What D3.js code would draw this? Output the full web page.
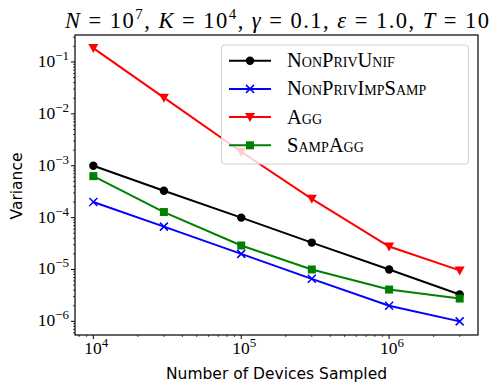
<!DOCTYPE html>
<html><head><meta charset="utf-8">
<script src="https://cdn.jsdelivr.net/npm/d3@7"></script>
<style>body{margin:0;background:#fff}</style>
</head><body>
<svg id="c" width="498" height="392"></svg>
<script>
const devices = [1e4, 3e4, 1e5, 3e5, 1e6, 3e6];
const nonPrivUnif = [1e-3, 3.3e-4, 1e-4, 3.3e-5, 1e-5, 3.3e-6];
const nonPrivImpSamp = [2e-4, 6.7e-5, 2e-5, 6.6e-6, 2e-6, 1e-6];
const agg = [0.185, 0.0205, 0.00186, 2.3e-4, 2.77e-5, 9.6e-6];
const sampAgg = [6.3e-4, 1.28e-4, 2.9e-5, 1e-5, 4.1e-6, 2.75e-6];
const seriesNames = ["NonPrivUnif", "NonPrivImpSamp", "Agg", "SampAgg"];
const seriesColors = ["#000000", "#0000ff", "#ff0000", "#008000"];
const seriesMarkers = ["circle", "x", "tri", "square"];
const xTickExps = [4, 5, 6];
const yTickExps = [-1, -2, -3, -4, -5, -6];
const xLabel = "Number of Devices Sampled";
const yLabel = "Variance";

const series = [nonPrivUnif, nonPrivImpSamp, agg, sampAgg];
const svg = d3.select("#c");
const L = 75, R = 478, T = 35, B = 335;
const x = d3.scaleLog().domain([Math.pow(10,3.876), Math.pow(10,6.601)]).range([L, R]);
const y = d3.scaleLog().domain([Math.pow(10,-6.263), Math.pow(10,-0.48)]).range([B, T]);

svg.append("defs").append("clipPath").attr("id","clip").append("rect")
  .attr("x",L).attr("y",T).attr("width",R-L).attr("height",B-T);

function minorVals(scale){
  const [a,b] = scale.domain(); const out=[];
  for(let e=Math.floor(Math.log10(a)); e<=Math.ceil(Math.log10(b)); e++)
    for(let k=1;k<10;k++){const v=k*Math.pow(10,e); if(v>=a&&v<=b) out.push(v);}
  return out;
}
const serif = "'Liberation Serif', serif";
const sans = "'DejaVu Sans', sans-serif";
const gx = svg.append("g");
minorVals(x).forEach(v=>{
  const major = Math.abs(Math.log10(v)-Math.round(Math.log10(v)))<1e-9;
  gx.append("line").attr("x1",x(v)).attr("x2",x(v)).attr("y1",B).attr("y2",B+(major?4:2))
    .attr("stroke","#000").attr("stroke-width",major?1:0.7);
});
minorVals(y).forEach(v=>{
  const major = Math.abs(Math.log10(v)-Math.round(Math.log10(v)))<1e-9;
  gx.append("line").attr("y1",y(v)).attr("y2",y(v)).attr("x1",L).attr("x2",L-(major?4:2))
    .attr("stroke","#000").attr("stroke-width",major?1:0.7);
});
xTickExps.forEach(e=>{
  const t = gx.append("text").attr("x",x(Math.pow(10,e))+3).attr("y",354).attr("text-anchor","middle")
    .attr("font-family",serif).attr("font-size",17.5);
  t.append("tspan").text("10");
  t.append("tspan").attr("dy",-7).attr("font-size",13).text(String(e));
});
yTickExps.forEach(e=>{
  const t = gx.append("text").attr("x",69).attr("y",y(Math.pow(10,e))+5).attr("text-anchor","end")
    .attr("font-family",serif).attr("font-size",17.5);
  t.append("tspan").text("10");
  t.append("tspan").attr("dy",-7).attr("font-size",13).text("\u2212"+Math.abs(e));
});

const line = d3.line().x((d,i)=>x(devices[i])).y(d=>y(d));
const plot = svg.append("g").attr("clip-path","url(#clip)");
function marker(g, type, cx, cy, color){
  if(type==="circle") g.append("circle").attr("cx",cx).attr("cy",cy).attr("r",4.2).attr("fill",color);
  else if(type==="square") g.append("rect").attr("x",cx-4).attr("y",cy-4).attr("width",8).attr("height",8).attr("fill",color);
  else if(type==="tri") g.append("path").attr("d",`M${cx-5},${cy-4}L${cx+5},${cy-4}L${cx},${cy+5}Z`).attr("fill",color);
  else if(type==="x") g.append("path").attr("d",`M${cx-4},${cy-4}L${cx+4},${cy+4}M${cx-4},${cy+4}L${cx+4},${cy-4}`)
      .attr("stroke",color).attr("stroke-width",1.5).attr("fill","none");
}
series.forEach((s,k)=>{
  plot.append("path").datum(s).attr("d",line).attr("fill","none")
    .attr("stroke",seriesColors[k]).attr("stroke-width",2);
  s.forEach((v,i)=>marker(plot, seriesMarkers[k], x(devices[i]), y(v), seriesColors[k]));
});

svg.append("rect").attr("x",L).attr("y",T).attr("width",R-L).attr("height",B-T)
  .attr("fill","none").attr("stroke","#000").attr("stroke-width",1.2);

const lg = svg.append("g");
lg.append("rect").attr("x",221.5).attr("y",45).attr("width",247).attr("height",119).attr("rx",3)
  .attr("fill","#fff").attr("fill-opacity",0.8).attr("stroke","#d0d0d0").attr("stroke-width",1);
seriesNames.forEach((n,k)=>{
  const yy = 60.7 + k*28.2;
  lg.append("line").attr("x1",229).attr("x2",271).attr("y1",yy).attr("y2",yy)
    .attr("stroke",seriesColors[k]).attr("stroke-width",2);
  marker(lg, seriesMarkers[k], 250, yy, seriesColors[k]);
  lg.append("text").attr("x",287).attr("y",yy+6.5).attr("font-family",serif).attr("font-size",20.5)
    .style("font-variant","small-caps").text(n);
});

const tt = svg.append("text").attr("x",65).attr("y",27.5)
  .attr("font-family",serif).attr("font-size",22.5)
  .attr("textLength",424).attr("lengthAdjust","spacing");
const parts = [["N","i"],[" = 10",""],["7","s"],[", ",""],["K","i"],[" = 10",""],["4","s"],[", ",""],
  ["\u03b3","i"],[" = 0.1, ",""],["\u03b5","i"],[" = 1.0, ",""],["T","i"],[" = 10",""]];
let sup=false;
parts.forEach(([s,t])=>{
  const sp = tt.append("tspan").text(s);
  if(t==="i") sp.attr("font-style","italic");
  if(t==="s"){ sp.attr("dy",-9).attr("font-size",15); sup=true; }
  else if(sup){ sp.attr("dy",9); sup=false; }
});

svg.append("text").attr("x",(L+R)/2).attr("y",379).attr("text-anchor","middle")
  .attr("font-family",sans).attr("font-size",15.5).text(xLabel);
svg.append("text").attr("transform","translate(22,186) rotate(-90)").attr("text-anchor","middle")
  .attr("font-family",sans).attr("font-size",15.5).text(yLabel);
</script>
</body></html>
